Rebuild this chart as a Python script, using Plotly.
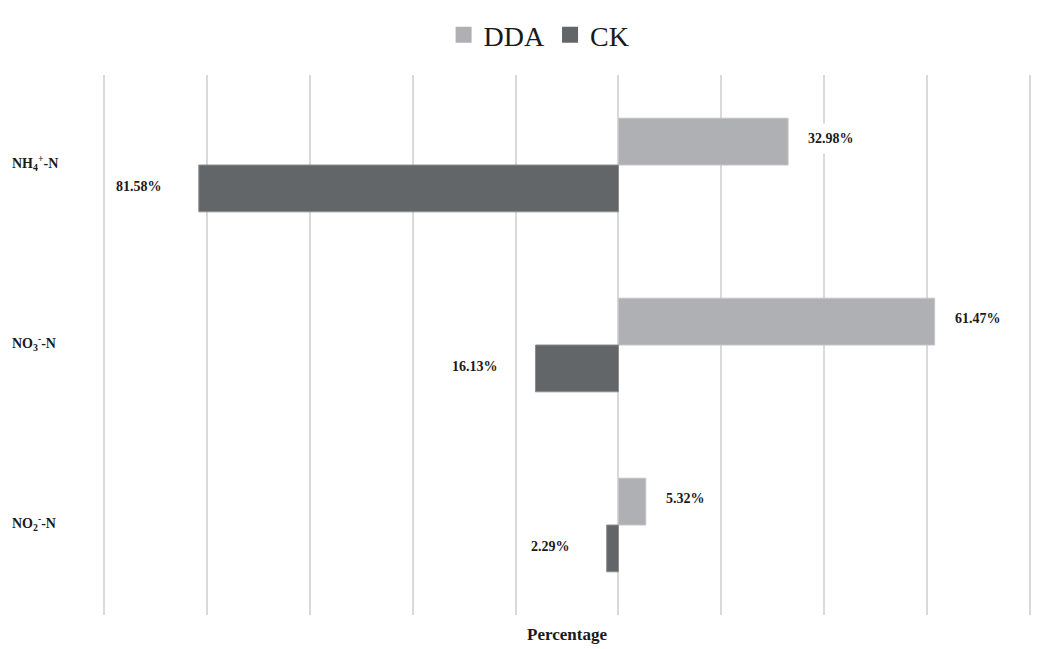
import plotly.graph_objects as go

categories = ["NH<sub>4</sub><sup>+</sup>-N", "NO<sub>3</sub><sup>-</sup>-N", "NO<sub>2</sub><sup>-</sup>-N"]
dda = [32.98, 61.47, 5.32]
ck = [81.58, 16.13, 2.29]
series_names = ["DDA", "CK"]
x_ticks = [-100, -80, -60, -40, -20, 0, 20, 40, 60, 80]

C_DDA = "#AFB0B3"
C_CK = "#636669"
FONT = "Liberation Serif"

fig = go.Figure()
fig.add_trace(go.Bar(y=categories, x=dda, orientation="h", name=series_names[0],
                     marker=dict(color=C_DDA, line=dict(color="#C4C5C7", width=1)),
                     hoverinfo="x+y", showlegend=False))
fig.add_trace(go.Bar(y=categories, x=[-v for v in ck], orientation="h", name=series_names[1],
                     marker=dict(color=C_CK, line=dict(color="#8A8C8E", width=1)),
                     hoverinfo="x+y", showlegend=False))
# legend entries with larger square swatches
for nm, col in zip(series_names, [C_DDA, C_CK]):
    fig.add_trace(go.Scatter(x=[None], y=[None], mode="markers", name=nm,
                             marker=dict(symbol="square", size=17, color=col)))

ann = []
for c, v in zip(categories, dda):
    ann.append(dict(x=v, y=c, xref="x", yref="y", text=f"<b>{v:.2f}%</b>",
                    showarrow=False, xanchor="left", xshift=12, yshift=27,
                    bgcolor="white", borderpad=7,
                    font=dict(family=FONT, size=14, color="#1a1a1a")))
for c, v in zip(categories, ck):
    ann.append(dict(x=-v, y=c, xref="x", yref="y", text=f"<b>{v:.2f}%</b>",
                    showarrow=False, xanchor="right", xshift=-29, yshift=-21,
                    bgcolor="white", borderpad=7,
                    font=dict(family=FONT, size=14, color="#1a1a1a")))
for c in categories:
    ann.append(dict(x=-0.0985, y=c, xref="paper", yref="y", text=f"<b>{c}</b>",
                    showarrow=False, xanchor="left", yshift=2,
                    font=dict(family=FONT, size=14, color="#1a1a1a")))

fig.update_layout(
    width=1064, height=649,
    margin=dict(l=94, r=40, t=67, b=42, autoexpand=False),
    paper_bgcolor="white", plot_bgcolor="white",
    barmode="group", bargap=0.48, bargroupgap=0,
    font=dict(family=FONT, color="#1a1a1a"),
    legend=dict(orientation="h", x=0.47, xanchor="center", y=1.074, yanchor="middle",
                font=dict(family=FONT, size=28, color="#1a1a1a"),
                traceorder="normal", itemwidth=30),
    annotations=ann,
    xaxis=dict(range=[-100.4, 80.4], tickvals=x_ticks, showticklabels=False,
               showgrid=True, gridcolor="#D9D9D9", gridwidth=1.5,
               zeroline=True, zerolinecolor="#D9D9D9", zerolinewidth=1.5,
               showline=False, ticks="",
               title=dict(text="<b>Percentage</b>", standoff=13,
                          font=dict(family=FONT, size=17, color="#1a1a1a")),
               automargin=False, fixedrange=True),
    yaxis=dict(autorange="reversed", showticklabels=False, showgrid=False,
               showline=False, ticks="", automargin=False, fixedrange=True),
)

fig.write_html("out.html")
